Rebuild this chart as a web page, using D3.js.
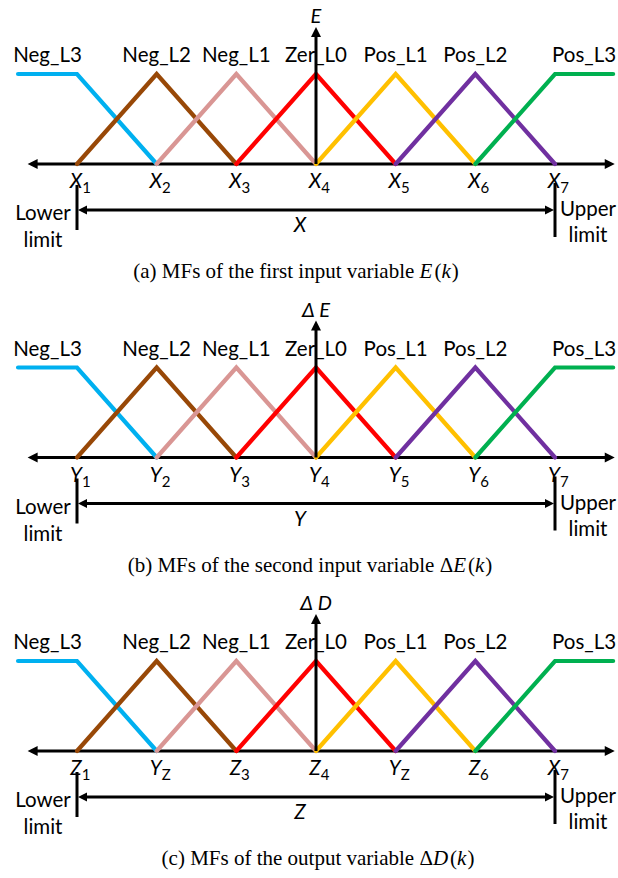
<!DOCTYPE html>
<html>
<head>
<meta charset="utf-8">
<script src="https://cdn.jsdelivr.net/npm/d3@7"></script>
<style>
  body { margin: 0; background: #fff; }
  svg { display: block; }
</style>
</head>
<body>
<svg id="chart" width="618" height="878"></svg>
<script>
// Membership functions: names and breakpoints (universe index, membership degree)
const mfNames = ["Neg_L3", "Neg_L2", "Neg_L1", "Zer_L0", "Pos_L1", "Pos_L2", "Pos_L3"];
const mfBreaks = [
  [[0.26, 1], [1, 1], [2, 0]],
  [[1, 0], [2, 1], [3, 0]],
  [[2, 0], [3, 1], [4, 0]],
  [[3, 0], [4, 1], [5, 0]],
  [[4, 0], [5, 1], [6, 0]],
  [[5, 0], [6, 1], [7, 0]],
  [[6, 0], [7, 1], [7.73, 1]]
];
const mfColors = ["#00B0F0", "#984807", "#D99694", "#FF0000", "#FFC000", "#7030A0", "#00B050"];

// Per-panel texts
const axisNames = ["E", "Δ E", "Δ D"];
const rangeNames = ["X", "Y", "Z"];
const tickMains = [
  ["X", "X", "X", "X", "X", "X", "X"],
  ["Y", "Y", "Y", "Y", "Y", "Y", "Y"],
  ["Z", "Y", "Z", "Z", "Y", "Z", "X"]
];
const tickSubs = [
  ["1", "2", "3", "4", "5", "6", "7"],
  ["1", "2", "3", "4", "5", "6", "7"],
  ["1", "Z", "3", "4", "Z", "6", "7"]
];
const captionPrefix = [
  "(a) MFs of the first input variable ",
  "(b) MFs of the second input variable ",
  "(c) MFs of the output variable "
];
const captionDelta = ["", "Δ", "Δ"];
const captionVar = ["E", "E", "D"];

const svg = d3.select("#chart");
const sansFont = "Lato, 'Open Sans', sans-serif";
const serifFont = "'Liberation Serif', 'DejaVu Serif', serif";
const captionCenters = [296, 310, 318];

const x = d3.scaleLinear().domain([1, 7]).range([77, 555]);
const axisDomain = [0.38, 7.75];

function arrowHead(g, tipX, tipY, dir, len, half) {
  let pts;
  if (dir === "left") pts = [[tipX, tipY], [tipX + len, tipY - half], [tipX + len, tipY + half]];
  else if (dir === "right") pts = [[tipX, tipY], [tipX - len, tipY - half], [tipX - len, tipY + half]];
  else pts = [[tipX, tipY], [tipX - half, tipY + len], [tipX + half, tipY + len]];
  g.append("path").attr("d", "M" + pts.map(p => p.join(",")).join("L") + "Z").attr("fill", "#000");
}

function drawPanel(i) {
  const base = 164 + i * 293.5;
  const g = svg.append("g");
  const y = d3.scaleLinear().domain([0, 1]).range([base, base - 90]);

  // MF labels above each peak / plateau
  g.selectAll("text.mf").data(mfNames).join("text")
    .attr("class", "mf")
    .attr("x", (d, j) => {
      const top = mfBreaks[j].filter(p => p[1] === 1);
      return x((d3.min(top, p => p[0]) + d3.max(top, p => p[0])) / 2);
    })
    .attr("y", base - 102)
    .attr("text-anchor", "middle")
    .attr("font-family", sansFont)
    .attr("font-size", 20.5)
    .attr("fill", "#000")
    .text(d => d);

  // Horizontal axis
  g.append("line")
    .attr("x1", x(axisDomain[0]) + 4).attr("x2", x(axisDomain[1]) - 4)
    .attr("y1", base).attr("y2", base)
    .attr("stroke", "#000").attr("stroke-width", 3);
  arrowHead(g, x(axisDomain[0]), base, "left", 10, 5);
  arrowHead(g, x(axisDomain[1]), base, "right", 10, 5);

  // Membership function lines
  const line = d3.line().x(d => x(d[0])).y(d => y(d[1]));
  g.selectAll("path.mf").data(mfBreaks).join("path")
    .attr("class", "mf")
    .attr("d", line)
    .attr("fill", "none")
    .attr("stroke", (d, j) => mfColors[j])
    .attr("stroke-width", 4.2)
    .attr("stroke-linejoin", "miter")
    .attr("stroke-linecap", "round");

  // Vertical axis
  const x0 = x(4);
  g.append("line")
    .attr("x1", x0).attr("x2", x0)
    .attr("y1", base).attr("y2", base - 130)
    .attr("stroke", "#000").attr("stroke-width", 3);
  arrowHead(g, x0, base - 137, "up", 10, 5);
  g.append("text")
    .attr("x", x0).attr("y", base - 141)
    .attr("text-anchor", "middle")
    .attr("font-family", sansFont).attr("font-size", 20).attr("font-style", "italic")
    .text(axisNames[i]);

  // Tick labels with subscripts
  tickMains[i].forEach((m, j) => {
    const t = g.append("text")
      .attr("y", base + 24)
      .attr("font-family", sansFont).attr("font-size", 20.5).attr("font-style", "italic");
    t.append("tspan").text(m);
    t.append("tspan").attr("dy", 5).attr("font-size", 15).attr("font-style", "normal").text(tickSubs[i][j]);
    const mainW = t.select("tspan").node().getComputedTextLength();
    t.attr("x", x(j + 1) - mainW / 2 - 1);
  });

  // Lower / upper limit bars and span arrow
  g.append("line").attr("x1", x(1)).attr("x2", x(1))
    .attr("y1", base + 21).attr("y2", base + 66)
    .attr("stroke", "#000").attr("stroke-width", 3);
  g.append("line").attr("x1", x(7)).attr("x2", x(7))
    .attr("y1", base + 19).attr("y2", base + 73)
    .attr("stroke", "#000").attr("stroke-width", 3);
  g.append("line").attr("x1", x(1) + 6).attr("x2", x(7) - 6)
    .attr("y1", base + 46).attr("y2", base + 46)
    .attr("stroke", "#000").attr("stroke-width", 2.8);
  arrowHead(g, x(1) + 1, base + 46, "left", 9, 4.5);
  arrowHead(g, x(7) - 1, base + 46, "right", 9, 4.5);

  g.append("text")
    .attr("x", x(3.8)).attr("y", base + 68)
    .attr("text-anchor", "middle")
    .attr("font-family", sansFont).attr("font-size", 20.5).attr("font-style", "italic")
    .text(rangeNames[i]);

  const lim = (tx, ty, s) => g.append("text").attr("x", tx).attr("y", ty)
    .attr("text-anchor", "middle").attr("font-family", sansFont).attr("font-size", 20.5).text(s);
  lim(x(1) - 34, base + 56, "Lower");
  lim(x(1) - 34, base + 83, "limit");
  lim(x(7) + 33, base + 52, "Upper");
  lim(x(7) + 33, base + 78, "limit");

  // Caption with math-styled variable
  const cap = g.append("text")
    .attr("x", captionCenters[i]).attr("y", base + 114)
    .attr("text-anchor", "middle")
    .attr("font-family", serifFont).attr("font-size", 21);
  cap.append("tspan").text(captionPrefix[i]);
  if (captionDelta[i]) cap.append("tspan").text(captionDelta[i]);
  cap.append("tspan").attr("font-style", "italic").text(captionVar[i]);
  cap.append("tspan").attr("dx", 2).text("(");
  cap.append("tspan").attr("font-style", "italic").text("k");
  cap.append("tspan").attr("dx", 1).text(")");
}

[0, 1, 2].forEach(drawPanel);
</script>
</body>
</html>
